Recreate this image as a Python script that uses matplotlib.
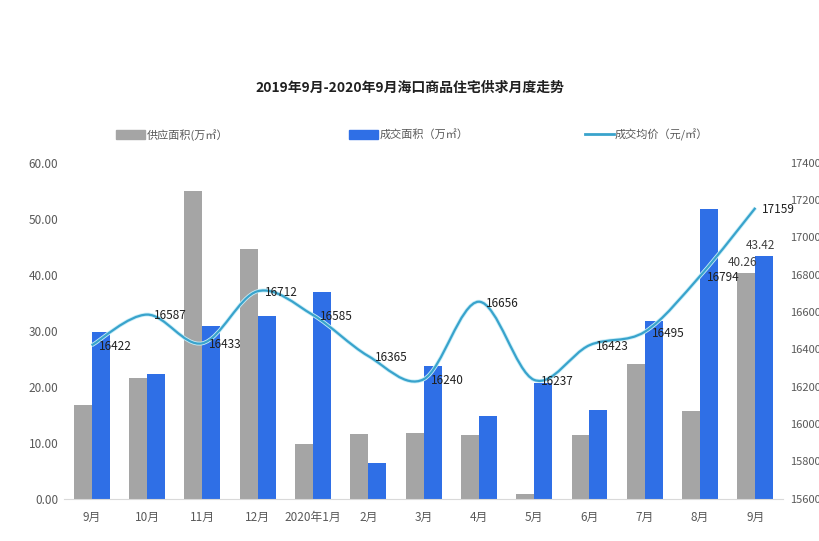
import numpy as np
import matplotlib as mpl
mpl.use('Agg')
import matplotlib.pyplot as plt
from matplotlib.path import Path
from matplotlib.patches import PathPatch, Patch
from matplotlib.lines import Line2D

plt.rcParams['font.family'] = ['Noto Sans CJK SC', 'DejaVu Sans']

gray = '#A5A5A5'
blue = '#2F6FE6'
teal = '#39A3CC'
txt = '#404040'

months = ['9月', '10月', '11月', '12月', '2020年1月', '2月', '3月', '4月',
          '5月', '6月', '7月', '8月', '9月']
supply = [16.8, 21.6, 55.0, 44.6, 9.8, 11.6, 11.8, 11.4, 0.9, 11.4, 24.1, 15.7, 40.26]
deal = [29.8, 22.3, 30.9, 32.7, 37.0, 6.4, 23.8, 14.8, 20.7, 15.9, 31.8, 51.8, 43.42]
price = [16422, 16587, 16433, 16712, 16585, 16365, 16240, 16656, 16237, 16423,
         16495, 16794, 17159]


def smooth_path(xs, ys):
    # catmull-rom style bezier, like the excel "smoothed line"
    pts = np.column_stack([xs, ys]).astype(float)
    n = len(pts)
    verts = [pts[0]]
    codes = [Path.MOVETO]
    for i in range(n - 1):
        p0 = pts[i - 1] if i > 0 else pts[i]
        p1 = pts[i]
        p2 = pts[i + 1]
        p3 = pts[i + 2] if i + 2 < n else pts[i + 1]
        c1 = p1 + (p2 - p0) / 6.0
        c2 = p2 - (p3 - p1) / 6.0
        verts += [c1, c2, p2]
        codes += [Path.CURVE4] * 3
    return Path(verts, codes)


fig = plt.figure(figsize=(8.2, 5.41), dpi=100)
ax = fig.add_axes([0.078, 0.078, 0.877, 0.621])
ax2 = ax.twinx()

x = np.arange(len(months))
w = 0.325
ax.bar(x - w / 2, supply, w, color=gray, zorder=2)
ax.bar(x + w / 2, deal, w, color=blue, zorder=2)

ax.set_xlim(-0.5, len(months) - 0.5)
ax.set_ylim(0, 60)
ax.set_yticks(np.arange(0, 61, 10))
ax.set_yticklabels(['%.2f' % v for v in np.arange(0, 61, 10)])
ax.set_xticks(x)
ax.set_xticklabels(months)

ax2.set_ylim(15600, 17400)
ax2.set_yticks(np.arange(15600, 17401, 200))

for a in (ax, ax2):
    for s in a.spines.values():
        s.set_visible(False)
    a.tick_params(length=0, labelsize=8.5, labelcolor='#595959')
ax.spines['bottom'].set_visible(True)
ax.spines['bottom'].set_color('#D9D9D9')
ax.tick_params(axis='y', pad=4)
ax.tick_params(axis='x', pad=9)
ax2.tick_params(axis='y', pad=5, labelsize=8)

# bar labels on the last month only
ax.annotate('%.2f' % supply[-1], (x[-1] - w / 2, supply[-1]), xytext=(-3, 3),
            textcoords='offset points', ha='center', va='bottom', fontsize=8.5, color=txt)
ax.annotate('%.2f' % deal[-1], (x[-1] + w / 2, deal[-1]), xytext=(-3, 3),
            textcoords='offset points', ha='center', va='bottom', fontsize=8.5, color=txt)

# smoothed price line
path = smooth_path(x, price)
ax2.add_patch(PathPatch(path, facecolor='none', edgecolor='#C8EEF8', lw=2.8, zorder=3))
ax2.add_patch(PathPatch(path, facecolor='none', edgecolor=teal, lw=1.6, zorder=4))
for xi, p in zip(x, price):
    ax2.annotate(str(p), (xi, p), xytext=(5, -1), textcoords='offset points',
                 ha='left', va='center', fontsize=8.5, color='#202020', zorder=5)

fig.text(0.5, 0.838, '2019年9月-2020年9月海口商品住宅供求月度走势', ha='center', va='center',
         fontsize=10, fontweight='bold', color='#202020')

leg_items = [
    (Patch(color=gray), '供应面积(万㎡）', 0.142),
    (Patch(color=blue), '成交面积（万㎡）', 0.426),
    (Line2D([], [], color=teal, lw=2), '成交均价（元/㎡）', 0.713),
]
for h, lab, lx in leg_items:
    fig.legend([h], [lab], loc='center left', bbox_to_anchor=(lx, 0.751), frameon=False,
               fontsize=8, labelcolor='#595959', handlelength=2.6, handleheight=0.9,
               handletextpad=0.1, borderaxespad=0, borderpad=0)

fig.savefig('out.png', dpi=100)
